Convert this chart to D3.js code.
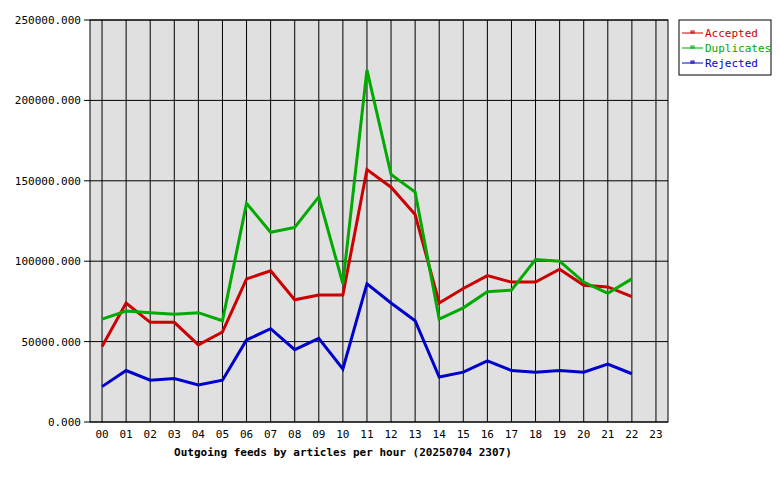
<!DOCTYPE html><html><head><script src="https://cdn.jsdelivr.net/npm/d3@7"></script>
<style>body{margin:0;background:#fff}text{font-family:"DejaVu Sans Mono",monospace;font-size:11px}</style></head><body>
<script>
const hours=d3.range(24).map(i=>String(i).padStart(2,"0"));
const accepted=[47000,74000,62000,62000,48000,56000,89000,94000,76000,79000,79000,157000,146000,129000,74000,83000,91000,87000,87000,95000,85000,84000,78000];
const duplicates=[64000,69000,68000,67000,68000,63000,136000,118000,121000,140000,86000,219000,154000,143000,64000,71000,81000,82000,101000,100000,87000,80000,89000];
const rejected=[22000,32000,26000,27000,23000,26000,51000,58000,45000,52000,33000,86000,74000,63000,28000,31000,38000,32000,31000,32000,31000,36000,30000];
const yTicks=[0,50000,100000,150000,200000,250000];
const series=[["Accepted",accepted,"#cc0000"],["Duplicates",duplicates,"#00aa00"],["Rejected",rejected,"#0000cc"]];
const svg=d3.select("body").append("svg").attr("width",780).attr("height",480);
const L=90,R=668,T=20,B=422;
const x=d3.scaleBand().domain(hours).range([L,R]);
const cx=h=>x(h)+x.bandwidth()/2;
const y=d3.scaleLinear().domain([0,250000]).range([B,T]);
svg.append("rect").attr("x",L).attr("y",T).attr("width",R-L).attr("height",B-T).attr("fill","#e0e0e0").attr("stroke","#000");
svg.selectAll(".vg").data(hours).join("line").attr("x1",cx).attr("x2",cx).attr("y1",T).attr("y2",B).attr("stroke","#000");
svg.selectAll(".hg").data(yTicks).join("line").attr("x1",L-6).attr("x2",R).attr("y1",y).attr("y2",y).attr("stroke","#000");
svg.selectAll(".yl").data(yTicks).join("text").attr("x",L-9).attr("y",d=>y(d)+4).attr("text-anchor","end").text(d=>d.toFixed(3));
svg.selectAll(".xl").data(hours).join("text").attr("x",cx).attr("y",B+16).attr("text-anchor","middle").text(d=>d);
svg.append("text").attr("x",343).attr("y",456).attr("text-anchor","middle").attr("font-weight","bold").text("Outgoing feeds by articles per hour (20250704 2307)");
const line=d3.line().x((d,i)=>cx(hours[i])).y(d=>y(d));
series.forEach(([n,v,c])=>svg.append("path").attr("d",line(v)).attr("fill","none").attr("stroke",c).attr("stroke-width",3));
const lg=svg.append("g");
lg.append("rect").attr("x",679).attr("y",20).attr("width",92).attr("height",55).attr("fill","#fff").attr("stroke","#000");
series.forEach(([n,v,c],i)=>{const yy=33+i*15;
lg.append("line").attr("x1",682).attr("x2",703).attr("y1",yy).attr("y2",yy).attr("stroke",c);
lg.append("rect").attr("x",691).attr("y",yy-2).attr("width",3).attr("height",2).attr("fill","none").attr("stroke",c);
lg.append("text").attr("x",705).attr("y",yy+4).attr("fill",c).text(n);});
</script></body></html>
